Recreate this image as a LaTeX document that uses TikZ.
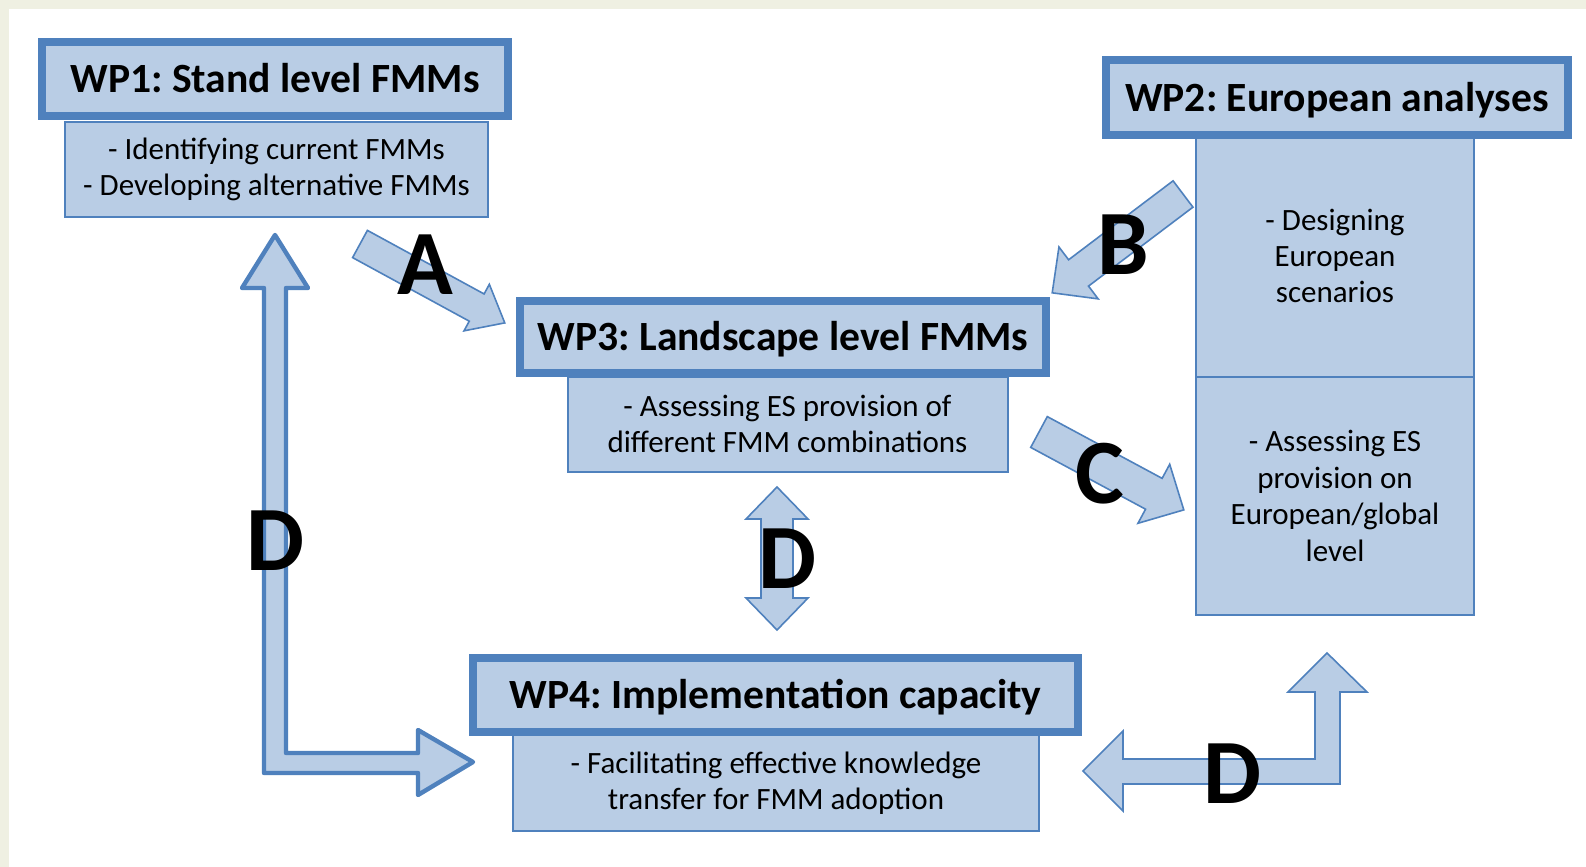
\documentclass[tikz,border=0pt]{standalone}
\usepackage{fontspec}
\setmainfont{Carlito}
\usetikzlibrary{calc}

\definecolor{boxfill}{HTML}{B9CDE5}
\definecolor{boxline}{HTML}{4F81BD}
\definecolor{pagebg}{HTML}{EFF0E2}

\tikzset{
  head/.style={draw=boxline, fill=boxfill, line width=4pt, inner sep=0pt,
    font=\fontsize{20.8}{24}\selectfont\bfseries, text height=15pt, text depth=1.5pt},
  body/.style={draw=boxline, fill=boxfill, line width=1pt, inner sep=0pt,
    font=\fontsize{15.5}{18.2}\selectfont, align=center},
  flat/.style={draw=boxline, fill=boxfill, line width=0.8pt, line join=miter},
  heavy/.style={draw=boxline, fill=boxfill, line width=2.2pt, line join=round},
  tag/.style={font=\fontsize{46}{46}\selectfont\bfseries, inner sep=0pt},
}

% straight block arrow from coordinate #1 to coordinate #2
% #3 shaft half width, #4 head half width, #5 head length
\newcommand{\blockarrow}[5]{%
  \draw[flat] let \p1=(#1), \p2=(#2),
    \n1={atan2(\y2-\y1,\x2-\x1)}, \n2={veclen(\x2-\x1,\y2-\y1)} in
    [shift={(\p1)}, rotate=\n1]
    (0pt,-#3) -- (\n2-#5,-#3) -- (\n2-#5,-#4) -- (\n2,0pt)
    -- (\n2-#5,#4) -- (\n2-#5,#3) -- (0pt,#3) -- cycle;}

\begin{document}
\frenchspacing
\begin{tikzpicture}[x=0.5pt, y=-0.5pt]
  % page
  \useasboundingbox (0,0) rectangle (1586,867);
  \fill[pagebg] (0,0) rectangle (1586,867);
  \fill[white] (9,9) rectangle (1586,867);

  % WP1
  \node[body, minimum width=211.5pt, minimum height=47.5pt] (wp1b) at (276.5,169.5)
    {- Identifying current FMMs\\- Developing alternative FMMs};
  \node[head, minimum width=233pt, minimum height=37pt] (wp1) at (275,79)
    {WP1: Stand level FMMs};

  % WP2
  \node[body, minimum width=139pt, minimum height=121pt] (wp2a) at (1335,256)
    {- Designing\\European\\scenarios};
  \node[body, minimum width=139pt, minimum height=119pt] (wp2b) at (1335,496)
    {- Assessing ES\\provision on\\European/global\\level};
  \node[head, minimum width=231pt, minimum height=37.5pt] (wp2) at (1337,97.5)
    {WP2: European analyses};

  % WP3
  \node[body, minimum width=220pt, minimum height=47.5pt] (wp3b) at (787.5,424)
    {- Assessing ES provision of\\different FMM combinations};
  \node[head, minimum width=263pt, minimum height=36pt] (wp3) at (783,337)
    {WP3: Landscape level FMMs};

  % WP4
  \node[body, minimum width=263pt, minimum height=48pt] (wp4b) at (776,783)
    {- Facilitating effective knowledge\\transfer for FMM adoption};
  \node[head, minimum width=302.5pt, minimum height=37pt] (wp4) at (775.5,695)
    {WP4: Implementation capacity};

  % arrow end points
  \coordinate (a1) at (360,244);   \coordinate (a2) at (505,323);
  \coordinate (b1) at (1183,194);  \coordinate (b2) at (1052,293);
  \coordinate (c1) at (1039,432);  \coordinate (c2) at (1184,510);
  \coordinate (d1) at (275,235);
  \coordinate (d2) at (777,487);
  \coordinate (d3) at (1083,771);

  % A, B, C
  \blockarrow{a1}{a2}{7.75pt}{13.25pt}{16pt}
  \blockarrow{b1}{b2}{8.25pt}{16.25pt}{16.5pt}
  \blockarrow{c1}{c2}{8.75pt}{16.75pt}{17pt}

  % D: WP1 <-> WP4
  \begin{scope}[shift={(d1)}]
    \draw[heavy] (0,0) -- (33,53) -- (11,53) -- (11,518) -- (143,518) -- (143,495)
      -- (198,527) -- (143,560) -- (143,538) -- (-11,538) -- (-11,53) -- (-33,53) -- cycle;
  \end{scope}

  % D: WP3 <-> WP4
  \begin{scope}[shift={(d2)}]
    \draw[flat] (0,0) -- (31,32) -- (16,32) -- (16,111) -- (31,111) -- (0,143)
      -- (-31,111) -- (-16,111) -- (-16,32) -- (-31,32) -- cycle;
  \end{scope}

  % D: WP4 <-> WP2
  \begin{scope}[shift={(d3)}]
    \draw[flat] (0,0) -- (40,-40) -- (40,-12) -- (232,-12) -- (232,-79) -- (205,-79)
      -- (244,-118) -- (284,-79) -- (257,-79) -- (257,13) -- (40,13) -- (40,40) -- cycle;
  \end{scope}

  % labels
  \node[tag] (la) at (425,265) {A};
  \node[tag] (lb) at (1123,245) {B};
  \node[tag] (lc) at (1100,474) {C};
  \node[tag] (ld1) at (275,541) {D};
  \node[tag] (ld2) at (787,559) {D};
  \node[tag] (ld3) at (1232,774) {D};
\end{tikzpicture}
\end{document}
